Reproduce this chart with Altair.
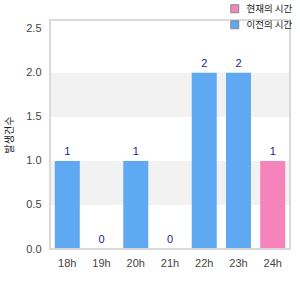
import altair as alt
import pandas as pd

hours = ["18h", "19h", "20h", "21h", "22h", "23h", "24h"]
counts = [1, 0, 1, 0, 2, 2, 1]
series = ["이전의 시간", "이전의 시간", "이전의 시간", "이전의 시간", "이전의 시간", "이전의 시간", "현재의 시간"]
legend_order = ["현재의 시간", "이전의 시간"]
legend_colors = ["#F584BD", "#5EA9F2"]
band_lo = [0.5, 1.5]
band_hi = [1.0, 2.0]

df = pd.DataFrame({"hour": hours, "count": counts, "series": series})
bands = pd.DataFrame({"lo": band_lo, "hi": band_hi})

font = "Noto Sans CJK KR"

bg = alt.Chart(bands).mark_rect(color="#F2F2F2").encode(
    y=alt.Y("lo:Q", scale=alt.Scale(domain=[0, 2.5])),
    y2="hi:Q",
    x=alt.value(0),
    x2=alt.value(240),
)

bars = alt.Chart(df).mark_bar().encode(
    x=alt.X("hour:N", sort=hours, title=None,
            scale=alt.Scale(paddingInner=0.27, paddingOuter=0.14),
            axis=alt.Axis(labelAngle=0, ticks=False, domain=False, labelColor="#444",
                          labelFontSize=11, labelPadding=8, labelFont="Arial")),
    y=alt.Y("count:Q", scale=alt.Scale(domain=[0, 2.5]),
            title="발생건수",
            axis=alt.Axis(values=[0, 0.5, 1.0, 1.5, 2.0, 2.5], format=".1f", ticks=False,
                          domain=False, grid=False, labelColor="#444", labelFontSize=11,
                          labelPadding=9, labelFont="Arial",
                          titleFontSize=10, titleFontWeight="normal", titleColor="#222",
                          titlePadding=11, titleFont=font)),
    color=alt.Color("series:N", scale=alt.Scale(domain=legend_order, range=legend_colors),
                    legend=alt.Legend(title=None, orient="none", legendX=180, legendY=-16,
                                      symbolType="square", symbolSize=64,
                                      symbolStrokeColor="#888", symbolStrokeWidth=1,
                                      symbolOpacity=1, labelFontSize=9.5, labelFont=font,
                                      labelColor="#222", rowPadding=3, labelOffset=7)),
)

labels = alt.Chart(df).mark_text(color="#1A1A8C", fontSize=11, dy=-9, baseline="middle",
                                 font="Arial").encode(
    x=alt.X("hour:N", sort=hours),
    y=alt.Y("count:Q"),
    text="count:Q",
)

border = alt.Chart(bands).mark_rect(fill=None, stroke="#D9D9D9", strokeWidth=1.5).encode(
    x=alt.value(0), x2=alt.value(240), y=alt.value(0), y2=alt.value(229)
)

chart = alt.layer(bg, bars, labels, border).properties(
    width=240, height=229,
    padding={"left": 50, "top": 20, "right": 10, "bottom": 51},
    autosize=alt.AutoSizeParams(type="none"),
).configure_view(stroke=None).configure(background="white")

chart.save("out.html", embed_options={"renderer": "svg", "actions": False})
